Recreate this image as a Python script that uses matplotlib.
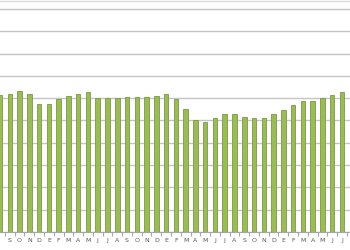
import numpy as np
import matplotlib
matplotlib.use('Agg')
import matplotlib.pyplot as plt
from matplotlib.lines import Line2D

# monthly values, Aug -> Jul over three years (Spanish month initials);
# the first bar's label is cut off, the last label (A) sits at the right edge
months = ['S', 'O', 'N', 'D', 'E', 'F', 'M', 'A', 'M', 'J', 'J', 'A'] * 3
values = [61.4, 61.9, 63.4, 61.9, 57.4, 57.4, 59.8, 61.0, 61.9, 62.6, 60.0, 60.0,
          59.9, 60.4, 60.4, 60.4, 61.0, 61.7, 59.6, 55.2, 50.4, 49.2, 51.0, 52.8,
          52.9, 51.7, 51.0, 51.0, 53.0, 54.6, 56.8, 58.9, 58.9, 60.0, 61.4, 62.8]
grid_ticks = np.arange(0, 101, 10)


def main():
    fig = plt.figure(figsize=(3.5, 2.5), dpi=100)
    ax = fig.add_axes([0, 0.072, 1, 0.928])
    x = np.arange(len(values))

    ax.bar(x, values, width=0.46, color='#9BBB59', edgecolor='#7A9A41', linewidth=0.6, zorder=3)

    ax.set_ylim(0, 104)
    ax.set_yticks(grid_ticks)
    ax.yaxis.grid(True, color='#C4C4C4', linewidth=1.0, zorder=0)
    ax.tick_params(axis='y', left=False, labelleft=False)

    ticks = np.arange(1, len(months) + 1)
    ax.set_xticks(ticks)
    ax.set_xticklabels(months, fontsize=4.5, color='#595959')
    ax.set_xticks(np.arange(len(months)) + 0.5, minor=True)
    ax.tick_params(axis='x', which='major', length=0, pad=4)
    ax.tick_params(axis='x', which='minor', length=3, color='#A6A6A6', width=0.8)
    ax.set_xlim(0, 35.82)

    for s in ['left', 'right', 'top']:
        ax.spines[s].set_visible(False)
    ax.spines['bottom'].set_color('#A6A6A6')
    ax.spines['bottom'].set_linewidth(0.8)

    fig.add_artist(Line2D([0, 1], [0.998, 0.998], transform=fig.transFigure,
                          color='#D9D9D9', linewidth=1.0))

    plt.savefig('out.png', dpi=100)


if __name__ == '__main__':
    main()
